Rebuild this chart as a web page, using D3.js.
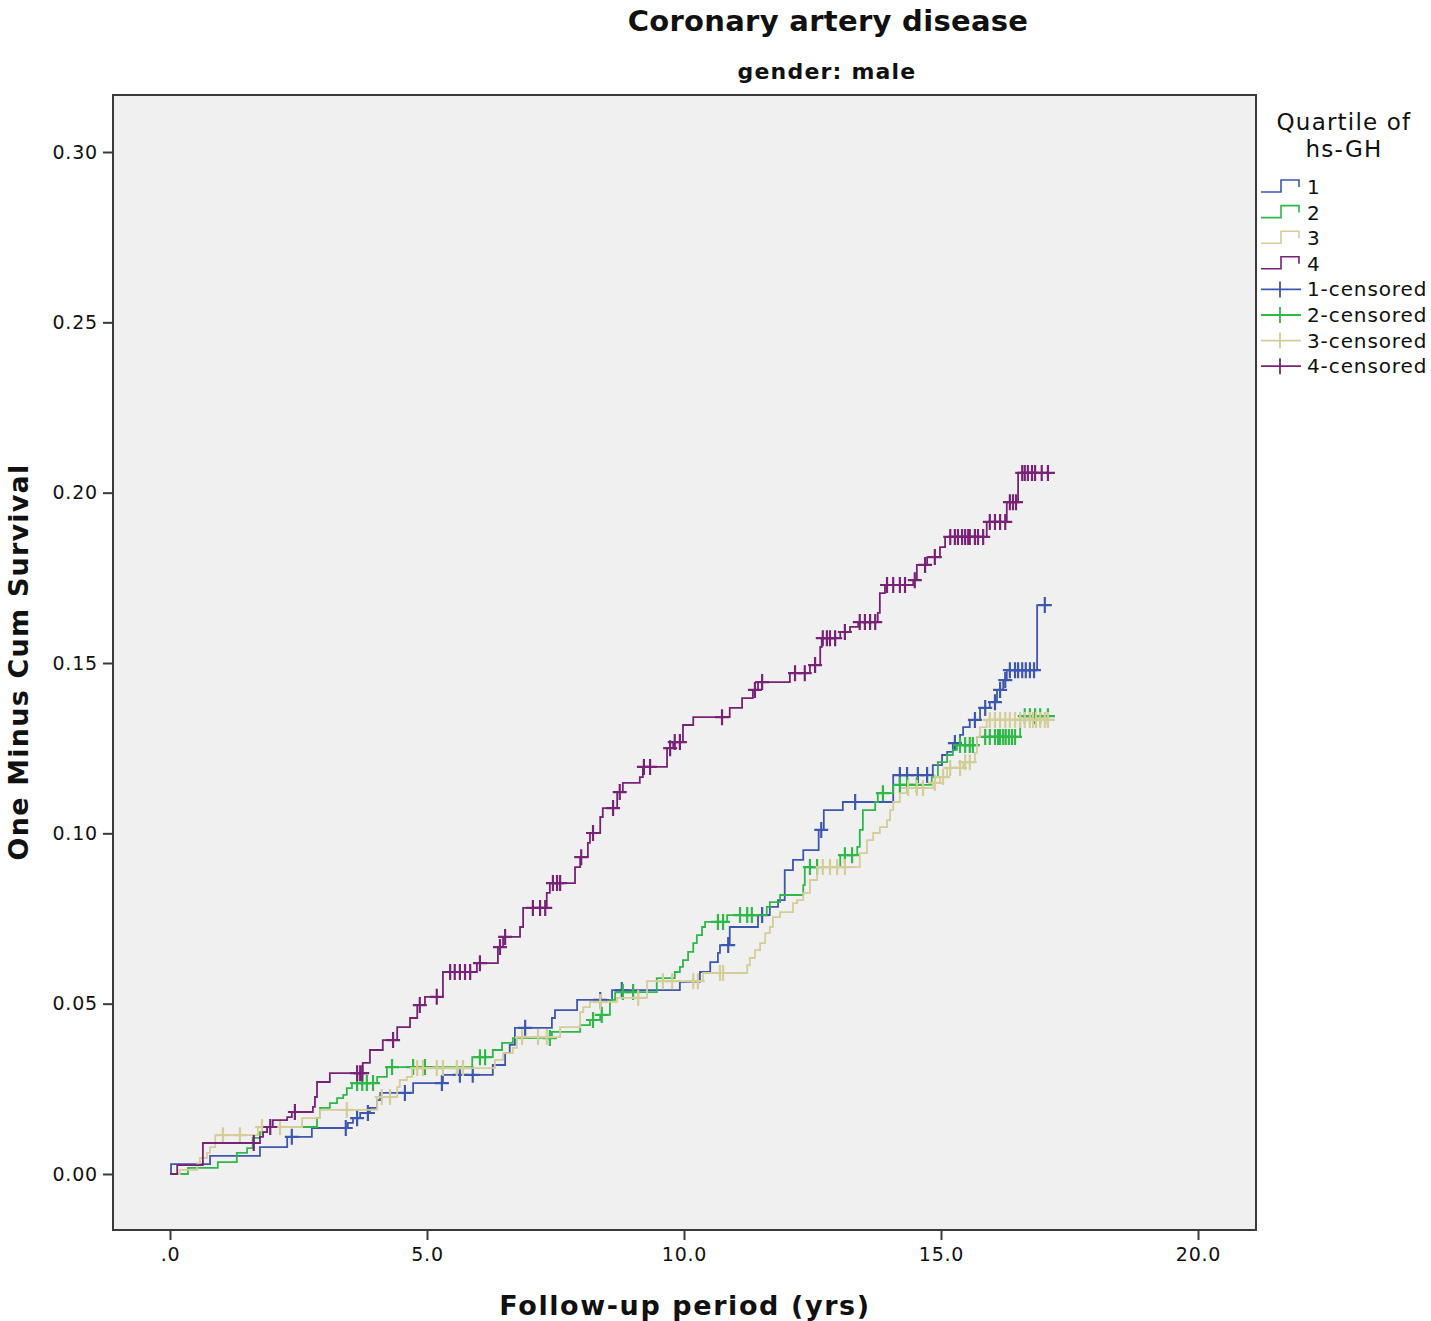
<!DOCTYPE html>
<html>
<head>
<meta charset="utf-8">
<script src="https://cdn.jsdelivr.net/npm/d3@7"></script>
<style>
  body { margin: 0; background: #fff; }
  text { font-family: "DejaVu Sans", sans-serif; fill: #111; }
</style>
</head>
<body>
<div id="chart"></div>
<script>
// step data: [time (yrs), one minus cum survival]
var groups = ["1", "2", "3", "4"];
var colors = ["#3d57b0", "#2eb848", "#d4cd98", "#782277"];

var steps1 = [[0.02,0.0029],[0.78,0.0053],[1.75,0.0079],[2.28,0.0109],[2.76,0.0135],[3.46,0.0150],[3.56,0.0164],[3.70,0.0179],[3.89,0.0194],[4.03,0.0217],[4.09,0.0238],[4.73,0.0267],[5.31,0.0291],[6.28,0.0320],[6.52,0.0355],[6.61,0.0379],[6.71,0.0429],[7.43,0.0458],[7.49,0.0481],[7.92,0.0511],[8.60,0.0540],[9.92,0.0564],[10.31,0.0593],[10.51,0.0622],[10.66,0.0649],[10.70,0.0672],[10.89,0.0725],[11.44,0.0760],[11.67,0.0784],[11.83,0.0804],[11.96,0.0892],[12.12,0.0922],[12.32,0.0951],[12.62,0.1010],[12.72,0.1068],[13.09,0.1092],[14.07,0.1171],[14.84,0.1200],[15.02,0.1230],[15.12,0.1239],[15.23,0.1265],[15.37,0.1289],[15.43,0.1312],[15.56,0.1333],[15.76,0.1368],[15.95,0.1385],[16.09,0.1421],[16.21,0.1450],[16.28,0.1479],[16.87,0.1670]];
var steps2 = [[0.35,0.0018],[0.93,0.0035],[1.30,0.0062],[1.50,0.0076],[1.61,0.0106],[1.75,0.0123],[1.89,0.0138],[2.86,0.0164],[2.92,0.0194],[3.11,0.0208],[3.25,0.0223],[3.37,0.0232],[3.44,0.0252],[3.54,0.0267],[4.03,0.0285],[4.22,0.0314],[5.88,0.0343],[6.28,0.0364],[6.46,0.0385],[6.67,0.0399],[7.43,0.0417],[7.98,0.0437],[8.17,0.0452],[8.37,0.0467],[8.56,0.0511],[8.66,0.0534],[9.47,0.0575],[9.82,0.0593],[9.92,0.0608],[9.98,0.0628],[10.08,0.0652],[10.18,0.0678],[10.25,0.0701],[10.35,0.0725],[10.41,0.0740],[10.84,0.0760],[11.61,0.0784],[11.67,0.0798],[11.87,0.0819],[12.32,0.0848],[12.35,0.0901],[13.04,0.0936],[13.37,0.0960],[13.42,0.1010],[13.48,0.1068],[13.72,0.1092],[13.77,0.1118],[14.07,0.1142],[14.82,0.1165],[14.94,0.1209],[15.12,0.1230],[15.23,0.1245],[15.31,0.1259],[15.70,0.1283],[16.54,0.1344]];
var steps3 = [[0.19,0.0012],[0.53,0.0032],[0.58,0.0047],[0.72,0.0062],[0.78,0.0079],[0.88,0.0114],[1.71,0.0138],[2.57,0.0164],[2.92,0.0188],[4.03,0.0226],[4.42,0.0255],[4.47,0.0276],[4.61,0.0285],[4.71,0.0311],[6.32,0.0335],[6.48,0.0355],[6.67,0.0370],[6.75,0.0402],[7.59,0.0431],[7.98,0.0475],[8.04,0.0490],[8.17,0.0505],[8.70,0.0517],[9.28,0.0566],[10.37,0.0590],[11.23,0.0613],[11.28,0.0634],[11.38,0.0657],[11.48,0.0678],[11.58,0.0707],[11.67,0.0725],[11.73,0.0754],[11.87,0.0769],[12.12,0.0795],[12.20,0.0804],[12.32,0.0825],[12.45,0.0863],[12.59,0.0901],[13.42,0.0942],[13.56,0.0980],[13.68,0.1001],[13.81,0.1018],[13.95,0.1039],[14.01,0.1068],[14.07,0.1092],[14.20,0.1118],[14.34,0.1133],[14.84,0.1148],[14.98,0.1165],[15.12,0.1192],[15.43,0.1209],[15.66,0.1236],[15.70,0.1283],[15.76,0.1312],[15.89,0.1333]];
var steps4 = [[0.14,0.0026],[0.64,0.0091],[1.75,0.0109],[1.81,0.0123],[1.89,0.0138],[2.00,0.0158],[2.28,0.0167],[2.37,0.0182],[2.78,0.0197],[2.82,0.0226],[2.86,0.0270],[3.11,0.0296],[3.75,0.0326],[3.89,0.0364],[4.14,0.0393],[4.42,0.0431],[4.67,0.0458],[4.81,0.0496],[4.96,0.0520],[5.31,0.0593],[5.97,0.0619],[6.38,0.0666],[6.48,0.0696],[6.81,0.0725],[6.87,0.0781],[7.33,0.0825],[7.39,0.0854],[7.88,0.0901],[7.98,0.0930],[8.13,0.0972],[8.17,0.1001],[8.37,0.1048],[8.42,0.1074],[8.70,0.1121],[8.81,0.1148],[9.14,0.1165],[9.20,0.1195],[9.67,0.1250],[9.79,0.1268],[9.98,0.1318],[10.18,0.1341],[10.89,0.1368],[11.13,0.1397],[11.34,0.1421],[11.44,0.1444],[12.06,0.1470],[12.45,0.1494],[12.65,0.1547],[12.68,0.1573],[13.04,0.1591],[13.23,0.1606],[13.39,0.1620],[13.77,0.1647],[13.81,0.1705],[13.91,0.1729],[14.46,0.1743],[14.53,0.1788],[14.73,0.1811],[14.98,0.1840],[15.08,0.1870],[15.89,0.1914],[16.28,0.1972],[16.50,0.2058]];

// censored times (yrs)
var cens1 = [2.37,3.42,3.64,3.85,4.57,5.29,5.64,5.89,6.91,8.37,8.79,10.86,11.52,12.67,13.33,14.20,14.34,14.55,14.73,15.27,15.66,15.86,16.05,16.15,16.25,16.34,16.44,16.50,16.58,16.65,16.73,16.81,17.02];
var cens2 = [3.64,3.74,3.83,3.95,4.32,4.73,4.96,6.03,6.13,7.39,8.23,8.40,8.81,9.01,10.66,10.76,11.09,11.23,11.32,12.45,12.59,13.13,13.27,13.87,14.20,14.34,14.53,15.37,15.47,15.56,15.62,15.86,15.95,16.05,16.11,16.15,16.21,16.26,16.32,16.38,16.44,16.63,16.73,16.83,16.93,17.08];
var cens3 = [1.03,1.36,1.79,2.14,3.44,4.12,4.28,4.81,4.92,5.19,5.31,5.58,5.70,6.85,7.16,7.33,8.37,9.11,9.59,9.77,10.18,10.27,10.70,10.76,12.70,12.84,12.98,13.13,14.36,14.53,14.65,14.88,15.04,15.18,15.37,15.47,15.56,15.95,16.05,16.15,16.25,16.34,16.44,16.54,16.63,16.73,16.79,16.85,16.93,17.02,17.08];
var cens4 = [1.63,1.95,2.43,3.64,3.70,3.74,4.34,4.86,5.19,5.45,5.54,5.64,5.74,5.84,6.03,6.42,6.52,7.06,7.20,7.30,7.45,7.53,7.59,8.00,8.23,8.62,8.75,9.22,9.34,9.73,9.82,9.92,10.74,11.38,11.52,12.16,12.35,12.55,12.70,12.78,12.84,12.94,13.13,13.42,13.52,13.62,13.72,13.95,14.07,14.20,14.30,14.49,14.69,14.88,15.18,15.27,15.33,15.41,15.47,15.53,15.56,15.66,15.72,15.82,15.95,16.05,16.15,16.25,16.34,16.40,16.46,16.58,16.63,16.69,16.77,16.83,16.96,17.08];

var xTicks = [0, 5, 10, 15, 20];
var yTicks = [0, 0.05, 0.10, 0.15, 0.20, 0.25, 0.30];

var allSteps = [steps1, steps2, steps3, steps4];
var allCens = [cens1, cens2, cens3, cens4];

var width = 1431, height = 1321;
var frame = {left: 113, right: 1256, top: 95, bottom: 1230};

var svg = d3.select("#chart").append("svg")
    .attr("width", width)
    .attr("height", height);

var x = d3.scaleLinear().domain([0, 20]).range([170, 1198]);
var y = d3.scaleLinear().domain([0, 0.30]).range([1174, 152]);

svg.append("rect")
    .attr("x", frame.left).attr("y", frame.top)
    .attr("width", frame.right - frame.left)
    .attr("height", frame.bottom - frame.top)
    .attr("fill", "#f0f0f0")
    .attr("stroke", "#3a3a3a")
    .attr("stroke-width", 2);

// axes
var xAxis = d3.axisBottom(x)
    .tickValues(xTicks)
    .tickSize(10)
    .tickPadding(8)
    .tickFormat(function(d) { return d === 0 ? ".0" : d.toFixed(1); });
var gx = svg.append("g")
    .attr("transform", "translate(0," + frame.bottom + ")")
    .call(xAxis);

var yAxis = d3.axisLeft(y)
    .tickValues(yTicks)
    .tickSize(10)
    .tickPadding(5)
    .tickFormat(function(d) { return d.toFixed(2); });
var gy = svg.append("g")
    .attr("transform", "translate(" + frame.left + ",0)")
    .call(yAxis);

[gx, gy].forEach(function(g) {
  g.select(".domain").remove();
  g.selectAll(".tick line").attr("stroke", "#3a3a3a").attr("stroke-width", 2);
  g.selectAll(".tick text")
    .style("font-family", "'DejaVu Sans', sans-serif")
    .style("font-size", "19px")
    .style("letter-spacing", "0.8px")
    .attr("fill", "#222");
});

// curves
var line = d3.line()
    .x(function(d) { return x(d[0]); })
    .y(function(d) { return y(d[1]); })
    .curve(d3.curveStepAfter);

function valueAt(steps, t) {
  var v = 0;
  steps.forEach(function(s) { if (s[0] <= t) v = s[1]; });
  return v;
}

var plot = svg.append("g");
allSteps.forEach(function(steps, i) {
  var cens = allCens[i];
  var endT = Math.max(steps[steps.length - 1][0], d3.max(cens));
  var pts = [[0, 0]].concat(steps).concat([[endT, steps[steps.length - 1][1]]]);

  plot.append("path")
      .datum(pts)
      .attr("fill", "none")
      .attr("stroke", colors[i])
      .attr("stroke-width", 1.8)
      .attr("d", line);

  plot.append("g").selectAll("path")
    .data(cens)
    .enter().append("path")
      .attr("transform", function(t) {
        return "translate(" + x(t) + "," + y(valueAt(steps, t)) + ")";
      })
      .attr("d", "M-7,0H7M0,-8V8")
      .attr("stroke", colors[i])
      .attr("stroke-width", 2.2)
      .attr("fill", "none");
});

// titles
svg.append("text")
    .attr("x", 828).attr("y", 31)
    .attr("text-anchor", "middle")
    .style("font-size", "29px").style("font-weight", "bold")
    .style("letter-spacing", "0.3px")
    .text("Coronary artery disease");
svg.append("text")
    .attr("x", 827).attr("y", 79)
    .attr("text-anchor", "middle")
    .style("font-size", "22px").style("font-weight", "bold")
    .style("letter-spacing", "1.2px")
    .text("gender: male");
svg.append("text")
    .attr("transform", "translate(28,662) rotate(-90)")
    .attr("text-anchor", "middle")
    .style("font-size", "27px").style("font-weight", "bold")
    .style("letter-spacing", "1.2px")
    .text("One Minus Cum Survival");
svg.append("text")
    .attr("x", 685).attr("y", 1315)
    .attr("text-anchor", "middle")
    .style("font-size", "27px").style("font-weight", "bold")
    .style("letter-spacing", "1.6px")
    .text("Follow-up period (yrs)");

// legend
var legend = svg.append("g");
legend.append("text")
    .attr("x", 1344).attr("y", 130)
    .attr("text-anchor", "middle")
    .style("font-size", "23px")
    .style("letter-spacing", "1.2px")
    .text("Quartile of");
legend.append("text")
    .attr("x", 1344).attr("y", 157)
    .attr("text-anchor", "middle")
    .style("font-size", "23px")
    .style("letter-spacing", "1.2px")
    .text("hs-GH");

var legendItems = groups.map(function(g, i) { return {label: g, color: colors[i], cens: false}; })
  .concat(groups.map(function(g, i) { return {label: g + "-censored", color: colors[i], cens: true}; }));

var item = legend.selectAll("g.item")
    .data(legendItems)
    .enter().append("g")
      .attr("class", "item")
      .attr("transform", function(d, i) { return "translate(1261," + (187 + i * 25.6) + ")"; });

item.append("path")
    .attr("d", function(d) {
      return d.cens ? "M0,0H40M19,-8V8" : "M0,5H20V-7H38V0";
    })
    .attr("fill", "none")
    .attr("stroke", function(d) { return d.color; })
    .attr("stroke-width", function(d) { return d.cens ? 1.8 : 1.6; });

item.append("text")
    .attr("x", 46).attr("y", 7)
    .style("font-size", "20px")
    .style("letter-spacing", "0.9px")
    .text(function(d) { return d.label; });
</script>
</body>
</html>
